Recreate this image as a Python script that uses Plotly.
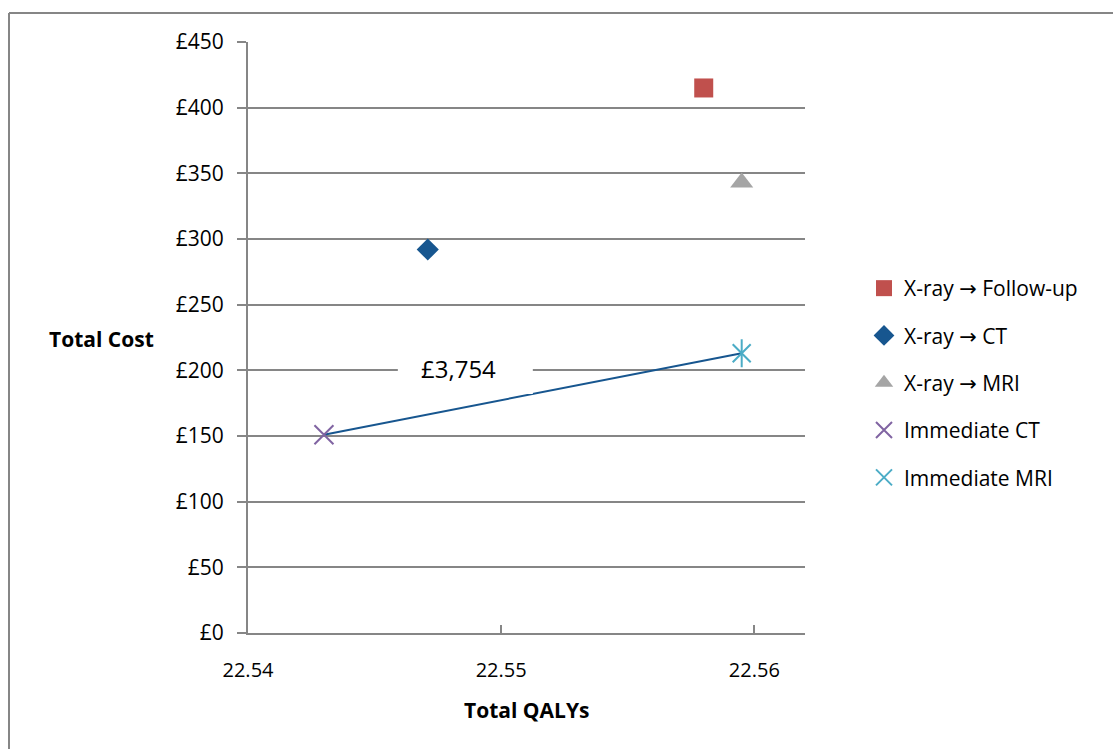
import plotly.graph_objects as go

ARROW = "<span style='font-family:DejaVu Sans'>\u2192</span>"
strategies = ["X-ray " + ARROW + " Follow-up", "X-ray " + ARROW + " CT", "X-ray " + ARROW + " MRI",
              "Immediate CT", "Immediate MRI"]
qalys = [22.5580, 22.5471, 22.5595, 22.5430, 22.5595]
costs = [415, 292, 343, 151, 213]
icer_label = "£3,754"

colors = ["#C0504D", "#17568F", "#A5A5A5", "#8064A2", "#4BACC6"]
symbols = ["square", "diamond", "triangle-up", "x-thin", "x-thin"]
sizes = [19, 17, 20, 19, 18]

FONT = "'Open Sans', sans-serif"
GRAY = "#868686"

fig = go.Figure()

# frontier line between Immediate CT and Immediate MRI
fig.add_trace(go.Scatter(x=[qalys[3], qalys[4]], y=[costs[3], costs[4]], mode="lines",
                         line=dict(color="#17568F", width=2), showlegend=False, hoverinfo="skip"))

for i, name in enumerate(strategies):
    lw = 2 if symbols[i] == "x-thin" else 0
    fig.add_trace(go.Scatter(
        x=[qalys[i]], y=[costs[i]], mode="markers", name=name,
        legendgroup=str(i),
        marker=dict(symbol=symbols[i], size=sizes[i], color=colors[i],
                    line=dict(color=colors[i], width=lw))))
# vertical stroke of the asterisk for Immediate MRI
fig.add_trace(go.Scatter(x=[qalys[4]], y=[costs[4]], mode="markers", showlegend=False,
                         marker=dict(symbol="line-ns", size=20, color=colors[4],
                                     line=dict(color=colors[4], width=2))))

XR = [22.54, 22.562]
YR = [0, 450]
L, R, T, B = 248, 308, 42, 116
W, H = 1113, 749
pw, ph = W - L - R, H - T - B
dxp = (XR[1] - XR[0]) / pw
dyp = (YR[1] - YR[0]) / ph

def px_x(p):
    return (p - L) / pw

def px_y(p):
    return (H - B - p) / ph

midx = (qalys[3] + qalys[4]) / 2
midy = (costs[3] + costs[4]) / 2

fig.update_layout(
    width=W, height=H,
    margin=dict(l=L, r=R, t=T, b=B),
    paper_bgcolor="white", plot_bgcolor="white",
    font=dict(family=FONT, size=20, color="#000000"),
    xaxis=dict(range=XR, tickvals=[22.54, 22.55, 22.56],
               ticktext=["22.54", "22.55", "22.56"],
               showgrid=False, zeroline=False, showline=True, linecolor=GRAY, linewidth=2,
               ticks="inside", ticklen=8, tickcolor=GRAY, tickwidth=1.5,
               tickfont=dict(size=20), ticklabelstandoff=18),
    yaxis=dict(range=YR, tickvals=[0, 50, 100, 150, 200, 250, 300, 350, 400, 450],
               ticktext=["£0", "£50", "£100", "£150", "£200", "£250", "£300", "£350", "£400", "£450"],
               showgrid=True, gridcolor=GRAY, gridwidth=2, zeroline=False,
               showline=True, linecolor=GRAY, linewidth=2,
               ticks="outside", ticklen=9, tickcolor=GRAY, tickwidth=2,
               tickfont=dict(size=21), ticklabelstandoff=9),
    legend=dict(x=px_x(864), y=px_y(268), xanchor="left", yanchor="top",
                font=dict(size=21), traceorder="grouped", tracegroupgap=17,
                itemwidth=30, bgcolor="rgba(0,0,0,0)"),
    showlegend=True,
)

# white label box whose bottom-right corner sits at the segment midpoint
fig.add_shape(type="rect", xref="x", yref="y", layer="above",
              x0=midx - 135 * dxp, x1=midx, y0=midy, y1=midy + 48 * dyp,
              fillcolor="white", line=dict(width=0))
fig.add_annotation(x=midx - 74 * dxp, y=midy + 25 * dyp, xref="x", yref="y", text=icer_label,
                   xanchor="center", yanchor="middle", showarrow=False,
                   font=dict(size=24))

fig.add_annotation(x=px_x(101), y=px_y(339), xref="paper", yref="paper",
                   xanchor="center", yanchor="middle",
                   text="<b>Total Cost</b>", showarrow=False, font=dict(size=21))
fig.add_annotation(x=px_x(526), y=px_y(710), xref="paper", yref="paper",
                   xanchor="center", yanchor="middle",
                   text="<b>Total QALYs</b>", showarrow=False, font=dict(size=21))

# outer chart border
fig.add_shape(type="line", xref="paper", yref="paper", x0=px_x(9), y0=px_y(13), x1=px_x(1200), y1=px_y(13),
              line=dict(color=GRAY, width=2))
fig.add_shape(type="line", xref="paper", yref="paper", x0=px_x(9), y0=px_y(13), x1=px_x(9), y1=px_y(800),
              line=dict(color=GRAY, width=2))

fig.write_html("out.html", config={"displayModeBar": False},
               post_script="document.body.style.margin='0';document.body.style.overflow='hidden';")
